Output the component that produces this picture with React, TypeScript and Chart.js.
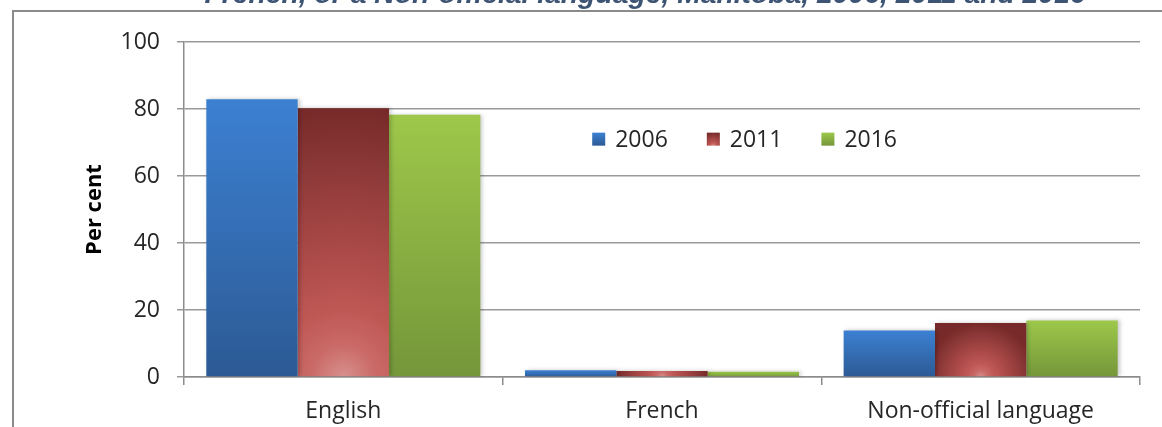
import React, { useEffect, useRef } from "react";
import { Chart, registerables } from "chart.js";

Chart.register(...registerables);

// ---- data ----
const categories = ["English", "French", "Non-official language"];
const seriesLabels = ["2006", "2011", "2016"];
const values2006 = [82.9, 2.0, 13.9];
const values2011 = [80.2, 1.8, 16.1];
const values2016 = [78.3, 1.6, 16.9];
const yTickValues = [0, 20, 40, 60, 80, 100];
const titleText = "French, or a Non-official language, Manitoba, 2006, 2011 and 2016";
const yAxisTitle = "Per cent";

const CAT_PCT = 0.86;
const FONT = "'Open Sans', 'Liberation Sans', sans-serif";
const solidColors = ["#3470BD", "#B04A47", "#8AAF42"];

function makeFill(c: CanvasRenderingContext2D, idx: number, left: number, top: number, w: number, h: number): any {
  if (!(h > 0.5) || !(w > 0.5)) return solidColors[idx];
  if (idx === 1) {
    const cx = left + w / 2;
    const r = Math.max(h, w / 2, 1);
    const g = c.createRadialGradient(cx, top + h, 0, cx, top + h, r);
    g.addColorStop(0, "#D8908E");
    g.addColorStop(0.12, "#CA6A67");
    g.addColorStop(0.25, "#BE5855");
    g.addColorStop(0.5, "#A84846");
    g.addColorStop(0.75, "#8F3A3A");
    g.addColorStop(1, "#772A29");
    return g;
  }
  const g = c.createLinearGradient(0, top, 0, top + h);
  if (idx === 0) {
    g.addColorStop(0, "#3C80D2");
    g.addColorStop(1, "#2C5A94");
  } else {
    g.addColorStop(0, "#9DC84A");
    g.addColorStop(1, "#75963A");
  }
  return g;
}

function barFill(idx: number) {
  return (ctx: any) => {
    const chart = ctx.chart;
    const xs = chart.scales?.x;
    const ys = chart.scales?.y;
    if (ctx.type !== "data" || !xs || !ys || !chart.chartArea) return solidColors[idx];
    const n = chart.data.labels.length;
    const nd = chart.data.datasets.length;
    const catW = (xs.right - xs.left) / n;
    const barW = (catW * CAT_PCT) / nd;
    const cx = xs.getPixelForValue(ctx.dataIndex) + (ctx.datasetIndex - (nd - 1) / 2) * barW;
    const top = ys.getPixelForValue(ctx.raw);
    const bottom = ys.getPixelForValue(0);
    return makeFill(chart.ctx, idx, cx - barW / 2, top, barW, bottom - top);
  };
}

const shadowPlugin = {
  id: "barShadow",
  beforeDatasetsDraw(chart: any) {
    const c = chart.ctx;
    c.save();
    c.shadowColor = "rgba(0,0,0,0.22)";
    c.shadowBlur = 4;
    c.shadowOffsetX = 2;
    c.shadowOffsetY = 0;
  },
  afterDatasetsDraw(chart: any) {
    chart.ctx.restore();
  },
};

// Title partly cut off by the top of the frame, drawn above the plot area
const clippedTitle = {
  id: "clippedTitle",
  afterDraw(chart: any) {
    const { ctx: c, chartArea: a } = chart;
    c.save();
    c.font = `italic bold 28.3px 'Liberation Sans', sans-serif`;
    c.fillStyle = "#3D5474";
    c.textAlign = "center";
    c.textBaseline = "alphabetic";
    c.fillText(titleText, (a.left + a.right) / 2 - 17, a.top - 39);
    c.restore();
  },
};

const insideLegend = {
  id: "insideLegend",
  afterDraw(chart: any) {
    const { ctx: c, chartArea: a } = chart;
    let x = a.left + (a.right - a.left) * 0.427;
    const yc = a.top + (a.bottom - a.top) * 0.29;
    const box = 13;
    c.save();
    c.font = `23px ${FONT}`;
    c.textBaseline = "middle";
    c.textAlign = "left";
    chart.data.datasets.forEach((ds: any, i: number) => {
      c.fillStyle = makeFill(c, i, x, yc - box / 2, box, box);
      c.fillRect(x, yc - box / 2, box, box);
      c.fillStyle = "#262626";
      c.fillText(ds.label, x + box + 10, yc + 1);
      const tw = c.measureText(ds.label).width;
      x += box + 10 + tw + 39;
    });
    c.restore();
  },
};

export default function App() {
  const ref = useRef<HTMLCanvasElement | null>(null);

  useEffect(() => {
    if (!ref.current) return;
    const chart = new Chart(ref.current, {
      type: "bar",
      data: {
        labels: categories,
        datasets: [
          { label: seriesLabels[0], data: values2006, backgroundColor: barFill(0) },
          { label: seriesLabels[1], data: values2011, backgroundColor: barFill(1) },
          { label: seriesLabels[2], data: values2016, backgroundColor: barFill(2) },
        ],
      },
      options: {
        animation: false,
        responsive: false,
        events: [],
        layout: { padding: { left: 0, right: 22, top: 66, bottom: 1.4 } },
        datasets: { bar: { categoryPercentage: CAT_PCT, barPercentage: 1, borderWidth: 0 } },
        plugins: {
          legend: { display: false },
          tooltip: { enabled: false },
          title: { display: false },
        },
        scales: {
          x: {
            afterFit: (scale: any) => {
              scale.height = 48.6;
            },
            grid: {
              offset: true,
              drawOnChartArea: false,
              drawTicks: true,
              tickLength: 8,
              color: "#8C8C8C",
              lineWidth: 1.5,
            },
            border: { color: "#8C8C8C", width: 1.5 },
            ticks: { font: { family: FONT, size: 23 }, color: "#262626", padding: 13 },
          },
          y: {
            min: 0,
            max: 100,
            afterBuildTicks: (scale: any) => {
              scale.ticks = yTickValues.map((v) => ({ value: v }));
            },
            afterFit: (scale: any) => {
              scale.width = 184;
            },
            grid: { color: "#999999", lineWidth: 1.5, tickLength: 7, drawTicks: true },
            border: { color: "#8C8C8C", width: 1.5 },
            ticks: { font: { family: FONT, size: 23 }, color: "#262626", padding: 17 },
            title: {
              display: true,
              text: yAxisTitle,
              color: "#000000",
              font: { family: FONT, size: 22, weight: "bold" },
              padding: { top: 81.8, bottom: 0 },
            },
          },
        },
      },
      plugins: [shadowPlugin, insideLegend, clippedTitle],
    });
    return () => chart.destroy();
  }, []);

  return (
    <>
      <div
        style={{
          position: "fixed",
          left: 12,
          top: 10,
          width: 1300,
          height: 600,
          borderTop: "2px solid #8A8A8A",
          borderLeft: "2px solid #8A8A8A",
          boxSizing: "border-box",
        }}
      />
      <div style={{ position: "fixed", left: 0, top: -24, width: 1162, height: 451 }}>
        <canvas ref={ref} width={1162} height={451} style={{ width: 1162, height: 451, display: "block" }} />
      </div>
    </>
  );
}
